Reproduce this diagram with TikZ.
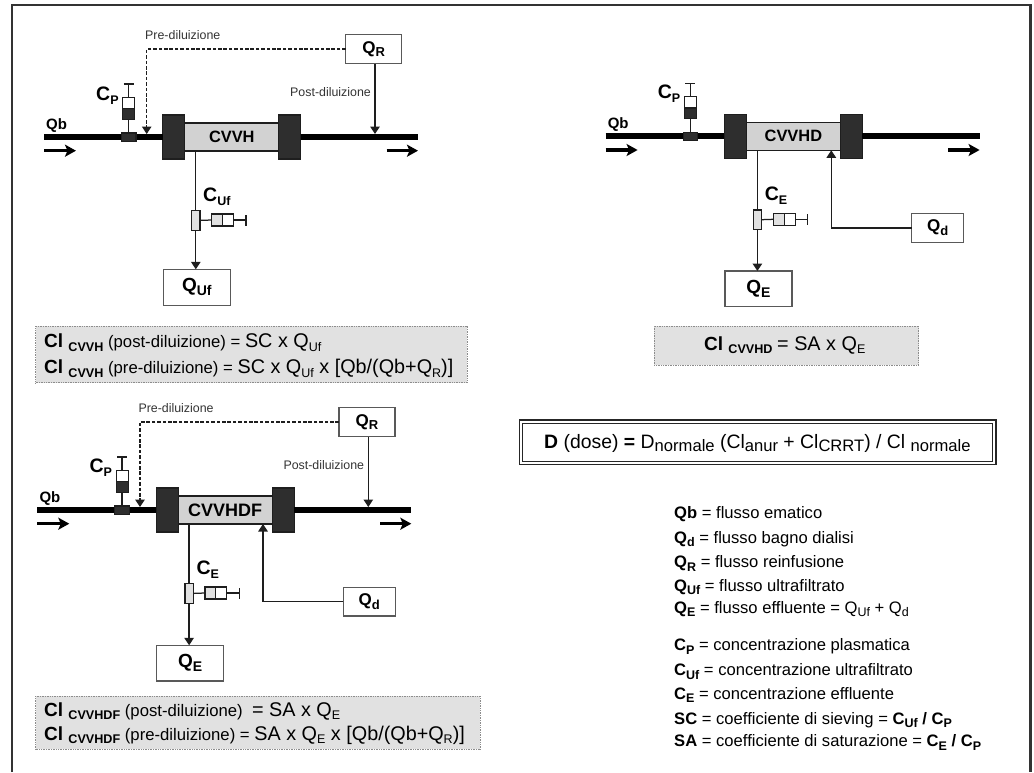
\documentclass[tikz,border=0pt]{standalone}
\usepackage{fontspec}
\setmainfont{Liberation Sans}
\usetikzlibrary{arrows.meta}
\newcommand\fs[1]{\fontsize{#1}{#1}\selectfont}
\newcommand\lw[2]{\raisebox{-3.8pt}{\fs{#1}#2}}
\newcommand\Bs[2]{{\bfseries Q\lw{12.5}{#2}}}
\newcommand\Bc[2]{{\bfseries #1\lw{12.5}{#2}}}
\newcommand\ClS[1]{{\bfseries\fs{19}Cl\ \lw{12.6}{#1}}}
\definecolor{capc}{HTML}{2E2E2E}
\definecolor{corec}{HTML}{D2D2D2}
\definecolor{greybox}{HTML}{E1E1E1}
\definecolor{inkc}{HTML}{1E1E1E}
\tikzset{
  partbox/.style={draw=inkc,line width=1.2pt,inner sep=0pt,outer sep=0pt,anchor=center},
  capbox/.style={partbox,fill=capc},
  corebox/.style={partbox,fill=corec,font=\bfseries\fs{16.4}},
  whitebox/.style={partbox,draw=black!65,fill=white},
  graybit/.style={partbox,fill=greybox},
  bloodline/.style={line width=5.8pt,black},
  flowarrow/.style={line width=3.2pt,black,-{Stealth[length=11pt,width=12pt,inset=2.5pt]}},
  thinline/.style={line width=1.25pt,inkc},
  tiparrow/.style={thinline,-{Triangle[length=7.5pt,width=9.5pt]}},
  dasharrow/.style={thinline,dash pattern=on 3.6pt off 1.8pt,-{Triangle[length=7.5pt,width=9.5pt]}},
  smalltxt/.style={font=\fs{12.4},text=black!80,inner sep=0pt,anchor=base west},
  sizedlabel/.style={inner sep=0pt,anchor=base west},
  formulabox/.style={draw=black!45,densely dotted,line width=.7pt,fill=greybox,inner sep=0pt},
  formulatxt/.style={inner sep=0pt,anchor=base west,font=\fs{16.7},text=black},
  legendtxt/.style={inner sep=0pt,anchor=base west,font=\fs{16.6},text=black},
}
\newcommand\CircuitBase[6]{
  \node[capbox,minimum width=22pt,minimum height=44pt] (capL) at (173.8,137) {};
  \node[capbox,minimum width=22pt,minimum height=44pt] (capR) at (289.8,137) {};
  \coordinate (inL) at (44,137);
  \coordinate (outR) at (418,137);
  \draw[bloodline] (inL) -- (capL.west);
  \draw[bloodline] (capR.east) -- (outR);
  \node[corebox,minimum width=94pt,minimum height=28pt] (core) at (231.8,137) {#1};
  \coordinate (fa1) at (44,150.7); \coordinate (fa2) at (76,150.7);
  \coordinate (fb1) at (386.7,150.7); \coordinate (fb2) at (418,150.7);
  \draw[flowarrow] (fa1) -- (fa2);
  \draw[flowarrow] (fb1) -- (fb2);
  \node[sizedlabel,font=\bfseries\fs{15}] (qb) at (46,129) {Qb};
  \node[capbox,minimum width=14.5pt,minimum height=8.5pt] (port) at (128.8,137.3) {};
  \node[partbox,fill=white,minimum width=12pt,minimum height=11.4pt] (barU) at (128.8,103) {};
  \node[capbox,minimum width=12pt,minimum height=10.6pt] (barD) at (128.8,114) {};
  \coordinate (tT) at (128.8,84);
  \draw[thinline] (barD.south) -- (port.north);
  \draw[thinline] (barU.north) -- (tT);
  \draw[thinline] ([xshift=-5pt]tT) -- ([xshift=5pt]tT);
  \node[sizedlabel] (cp) at (96,#2) {\bfseries\fs{19.5}C\lw{12.5}{P}};
  \node[graybit,minimum width=8.4pt,minimum height=19.4pt] (sample) at (195.8,220.4) {};
  \node[whitebox,minimum width=67pt,minimum height=#4pt-#3pt,font=\bfseries\fs{19}] (outbox) at (196.8,{(#3+#4)/2}) {#6};
  \draw[thinline] (sample.north |- core.south) -- (sample.north);
  \draw[tiparrow] (sample.south) -- (sample.south |- outbox.north);
  \node[graybit,minimum width=11pt,minimum height=12pt] (barG) at (217.2,220) {};
  \node[partbox,fill=white,minimum width=11pt,minimum height=12pt] (barW) at (228,220) {};
  \coordinate (tE) at (246,220);
  \draw[thinline] (sample.east) -- (barG.west);
  \draw[thinline] (barW.east) -- (tE);
  \draw[thinline] ([yshift=-5.5pt]tE) -- ([yshift=5.5pt]tE);
  \node[sizedlabel] (cs) at (203,201.6) {\bfseries\fs{19.5}C\lw{12.5}{#5}};
}
\newcommand\Reinfusion{
  \node[whitebox,minimum width=56pt,minimum height=29.5pt,font=\bfseries\fs{17}] (qr) at (373.7,49) {Q\lw{13}{R}};
  \coordinate (pre) at (146.7,134);
  \coordinate (post) at (375,134);
  \draw[dasharrow] (qr.west) -| (pre);
  \draw[tiparrow] (post |- qr.south) -- (post);
  \node[smalltxt] (pret) at (145,39.8) {Pre-diluizione};
  \node[smalltxt] (postt) at (290,96.8) {Post-diluizione};
}
\newcommand\Dialysate{
  \node[whitebox,minimum width=51.7pt,minimum height=28.5pt,font=\bfseries\fs{17}] (qd) at (376,228.7) {Q\lw{13}{d}};
  \coordinate (din) at (269.7,151);
  \draw[tiparrow] (qd.west) -| (din);
}
\begin{document}
\begin{tikzpicture}[x=1pt,y=-1pt]
\useasboundingbox (0,0) rectangle (1034,772);
\coordinate (f1) at (11.7,772); \coordinate (f2) at (11.7,5); \coordinate (f3) at (1030.5,5); \coordinate (f4) at (1030.5,772);
\draw[line width=2.4pt,black!80,line join=miter] (f1) -- (f2) -- (f3) -- (f4);

\begin{scope}[name prefix=a-]
  \CircuitBase{CVVH}{100.7}{269.3}{305.3}{Uf}{Q\lw{14}{Uf}}
  \Reinfusion
\end{scope}
\begin{scope}[shift={(561.6,-0.7)},name prefix=b-]
  \CircuitBase{CVVHD}{99}{271.7}{307.4}{E}{Q\lw{14}{E}}
  \Dialysate
\end{scope}
\begin{scope}[shift={(-6.7,373)},name prefix=c-]
  \CircuitBase{\fs{18}CVVHDF}{99.3}{272.3}{308}{E}{Q\lw{14}{E}}
  \Reinfusion
  \Dialysate
\end{scope}

\node[formulabox,minimum width=431.3pt,minimum height=56.7pt] (fa) at (251.3,354.4) {};
\node[formulatxt] (fa1t) at (44,347.7) {\ClS{CVVH} (post-diluizione) = {\fs{19.8}SC x Q\lw{12.5}{Uf}}};
\node[formulatxt] (fa2t) at (44,373.3) {\ClS{CVVH} (pre-diluizione) = {\fs{19.8}SC x Q\lw{12.5}{Uf} x [Qb/(Qb+Q\lw{12.5}{R})]}};

\node[formulabox,minimum width=264.4pt,minimum height=39pt] (fb) at (786.5,345.5) {};
\node[formulatxt] (fb1t) at (704,350) {\ClS{CVVHD} {\fs{19.8}= SA x Q\lw{12.5}{E}}};

\node[formulabox,minimum width=444.3pt,minimum height=53pt] (fc) at (257.9,722.5) {};
\node[formulatxt] (fc1t) at (44,716) {\ClS{CVVHDF} (post-diluizione) \ {\fs{19.8}= SA x Q\lw{12.5}{E}}};
\node[formulatxt] (fc2t) at (44,740) {\ClS{CVVHDF} (pre-diluizione) = {\fs{19.8}SA x Q\lw{12.5}{E} x [Qb/(Qb+Q\lw{12.5}{R})]}};

\node[draw=black!85,line width=1.5pt,fill=white,minimum width=476.5pt,minimum height=44.5pt,inner sep=0pt] (dose) at (757.5,442.2) {};
\node[draw=black!85,line width=.8pt,minimum width=470.5pt,minimum height=38.5pt,inner sep=0pt] (doseinner) at (dose.center) {};
\node[inner sep=0pt,anchor=base west,font=\fs{19.4},text=black] (doset) at (544,448) {\textbf{D} (dose) \textbf{=} D\lw{16.6}{normale} (Cl\lw{16.6}{anur} + Cl\lw{16.6}{CRRT}) / Cl \lw{16.6}{normale}};

\node[legendtxt] (l1) at (674,518.3) {\textbf{Qb} = flusso ematico};
\node[legendtxt] (l2) at (674,543) {\Bs{Q}{d} = flusso bagno dialisi};
\node[legendtxt] (l3) at (674,567.7) {\Bs{Q}{R} = flusso reinfusione};
\node[legendtxt] (l4) at (674,591) {\Bs{Q}{Uf} = flusso ultrafiltrato};
\node[legendtxt] (l5) at (674,613) {\Bs{Q}{E} = flusso effluente = Q\lw{12.5}{Uf} + Q\lw{12.5}{d}};
\node[legendtxt] (l6) at (674,650.7) {\Bc{C}{P} = concentrazione plasmatica};
\node[legendtxt] (l7) at (674,675.3) {\Bc{C}{Uf} = concentrazione ultrafiltrato};
\node[legendtxt] (l8) at (674,699) {\Bc{C}{E} = concentrazione effluente};
\node[legendtxt] (l9) at (674,724) {\textbf{SC} = coefficiente di sieving = \Bc{C}{Uf}\textbf{ / }\Bc{C}{P}};
\node[legendtxt] (l10) at (674,746.7) {\textbf{SA} = coefficiente di saturazione = \Bc{C}{E}\textbf{ / }\Bc{C}{P}};
\end{tikzpicture}
\end{document}
